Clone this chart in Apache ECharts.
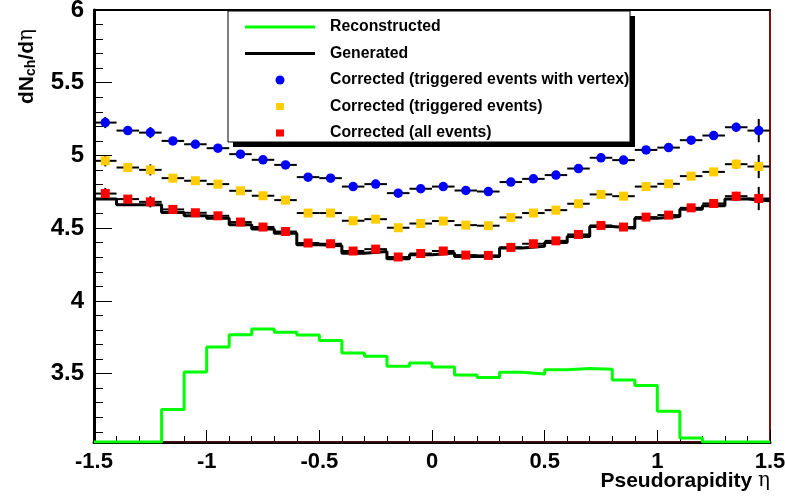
<!DOCTYPE html>
<html>
<head>
<meta charset="utf-8">
<script src="https://cdn.jsdelivr.net/npm/echarts@6/dist/echarts.min.js"></script>
<style>html,body{margin:0;padding:0;background:#fff;}#c{width:785px;height:496px;}</style>
</head>
<body>
<div id="c"></div>
<script>
// ---- data ----
const eta = [-1.45,-1.35,-1.25,-1.15,-1.05,-0.95,-0.85,-0.75,-0.65,-0.55,-0.45,-0.35,-0.25,-0.15,-0.05,
             0.05,0.15,0.25,0.35,0.45,0.55,0.65,0.75,0.85,0.95,1.05,1.15,1.25,1.35,1.45];
const reconstructed = [0,0,0,3.253,3.512,3.683,3.768,3.807,3.784,3.766,3.727,3.642,3.619,3.550,3.573,
                       3.546,3.491,3.473,3.509,3.498,3.527,3.536,3.530,3.457,3.418,3.241,3.058,0,0,0];
const generated = [4.700,4.661,4.661,4.608,4.585,4.569,4.523,4.494,4.466,4.386,4.380,4.328,4.340,4.289,4.317,
                   4.329,4.306,4.306,4.363,4.376,4.402,4.443,4.512,4.500,4.569,4.580,4.631,4.654,4.700,4.688];
const corrVertex = [5.226,5.171,5.157,5.100,5.077,5.050,5.009,4.970,4.935,4.851,4.844,4.786,4.803,4.741,4.771,
                    4.786,4.759,4.752,4.817,4.839,4.865,4.910,4.984,4.968,5.038,5.054,5.105,5.137,5.194,5.171];
const corrTriggered = [4.963,4.917,4.901,4.844,4.826,4.803,4.757,4.723,4.693,4.604,4.604,4.551,4.562,4.503,4.532,
                       4.549,4.521,4.517,4.574,4.604,4.624,4.668,4.732,4.720,4.786,4.805,4.858,4.887,4.940,4.924];
const corrAll = [4.738,4.700,4.681,4.629,4.606,4.585,4.542,4.508,4.477,4.398,4.393,4.343,4.356,4.302,4.326,
                 4.343,4.315,4.313,4.368,4.393,4.413,4.457,4.519,4.508,4.576,4.590,4.640,4.670,4.720,4.704];
const corrErr = [0.038,0.025,0.038,0.025,0.025,0.025,0.025,0.025,0.025,0.025,0.025,0.025,0.025,0.025,0.025,
                 0.025,0.025,0.025,0.025,0.025,0.025,0.025,0.025,0.025,0.025,0.025,0.025,0.025,0.03,0.08];
const zeroHist = eta.map(() => 0);
const xTicks = [-1.5,-1,-0.5,0,0.5,1,1.5];
const yTicks = [3.5,4,4.5,5,5.5,6];
const yMin = 3.03, yMax = 6;
const binHalf = 0.05;

// ---- helpers ----
const yMinor = [];
for (let k = 31; k <= 60; k++) { const v = k / 10; if (Math.abs(v * 2 - Math.round(v * 2)) > 1e-6) yMinor.push(v); }
function histPath(vals) {
  const pts = [];
  vals.forEach((v, i) => { const y = Math.max(v, yMin); pts.push([eta[i] - binHalf, y], [eta[i] + binHalf, y]); });
  return pts;
}
const FONT = "'Liberation Sans', Arial, Helvetica, sans-serif";
function errSeries(vals) {
  return {
    type: 'custom', xAxisIndex: 0, yAxisIndex: 0, z: 3, silent: true,
    data: eta.map((x, i) => [x, vals[i], corrErr[i]]),
    encode: { x: 0, y: 1 },
    renderItem: function (params, api) {
      const x = api.value(0), y = api.value(1), e = api.value(2);
      const a = api.coord([x - binHalf, y]), b = api.coord([x + binHalf, y]);
      const t = api.coord([x, y + e]), u = api.coord([x, y - e]);
      return { type: 'group', children: [
        { type: 'line', shape: { x1: a[0], y1: a[1], x2: b[0], y2: b[1] }, style: { stroke: '#000', lineWidth: 2 } },
        { type: 'line', shape: { x1: t[0], y1: t[1], x2: u[0], y2: u[1] }, style: { stroke: '#000', lineWidth: 2 } }
      ]};
    }
  };
}
const LINE_ICON = 'path://M0,0 M0,3 L70,3 L70,6 L0,6 Z M70,9';
const SQUARE_ICON = 'path://M0,0 M31,1 L39,1 L39,8 L31,8 Z M70,9';

const chart = echarts.init(document.getElementById('c'), null, { renderer: 'canvas' });
const option = {
  animation: false,
  backgroundColor: '#fff',
  grid: { left: 94, right: 15, top: 10, bottom: 54, containLabel: false, outerBoundsMode: 'none' },
  xAxis: [{
    type: 'value', min: -1.5, max: 1.5, interval: 0.5, position: 'bottom',
    axisLine: { show: true, onZero: false, lineStyle: { color: '#000', width: 3 } },
    axisTick: { show: true, inside: true, length: 12, lineStyle: { color: '#000', width: 1 } },
    minorTick: { show: true, splitNumber: 5, length: 6, lineStyle: { color: '#000', width: 1 } },
    axisLabel: { show: true, customValues: xTicks, showMinLabel: true, showMaxLabel: true, margin: 9, hideOverlap: false,
                 color: '#000', fontSize: 22, fontWeight: 'bold', fontFamily: FONT },
    splitLine: { show: false }
  }, {
    type: 'value', min: -1.5, max: 1.5, position: 'top',
    axisLine: { show: true, onZero: false, lineStyle: { color: '#000', width: 2 } },
    axisTick: { show: false }, axisLabel: { show: false }, splitLine: { show: false }
  }],
  yAxis: [{
    type: 'value', min: yMin, max: yMax, position: 'left',
    axisLine: { show: true, onZero: false, lineStyle: { color: '#000', width: 3 } },
    axisTick: { show: true, inside: true, length: 18, customValues: yTicks, lineStyle: { color: '#000', width: 1 } },
    axisLabel: { show: true, customValues: yTicks, margin: 10, padding: [4, 0, 0, 0], color: '#000', fontSize: 24, fontWeight: 'bold', fontFamily: FONT },
    splitLine: { show: false }
  }, {
    type: 'value', min: yMin, max: yMax, position: 'left',
    axisLine: { show: false, onZero: false },
    axisTick: { show: true, inside: true, length: 9, customValues: yMinor, lineStyle: { color: '#000', width: 1 } },
    axisLabel: { show: false }, splitLine: { show: false }
  }, {
    type: 'value', min: yMin, max: yMax, position: 'right',
    axisLine: { show: true, onZero: false, lineStyle: { color: '#7a1010', width: 2 } },
    axisTick: { show: false }, axisLabel: { show: false }, splitLine: { show: false }
  }],
  legend: {
    orient: 'vertical', left: 245, top: 19, z: 20, padding: 0,
    itemWidth: 70, itemHeight: 9, itemGap: 10.5,
    textStyle: { fontSize: 15.8, fontWeight: 'bold', fontFamily: FONT, color: '#000', lineHeight: 16, padding: [0, 0, 0, 10] },
    data: [
      { name: 'Reconstructed', icon: LINE_ICON, itemStyle: { color: '#00ff00' } },
      { name: 'Generated', icon: LINE_ICON, itemStyle: { color: '#000' } },
      { name: 'Corrected (triggered events with vertex)', icon: 'circle' },
      { name: 'Corrected (triggered events)', icon: SQUARE_ICON },
      { name: 'Corrected (all events)', icon: SQUARE_ICON }
    ]
  },
  graphic: [
    { type: 'rect', z: 10, shape: { x: 233, y: 16, width: 402, height: 131 }, style: { fill: '#000' } },
    { type: 'rect', z: 11, shape: { x: 228, y: 11, width: 402, height: 131 }, style: { fill: '#fff', stroke: '#000', lineWidth: 1 } },
    { type: 'text', z: 12, x: 27, y: 104, rotation: Math.PI / 2,
      style: { text: '{b|dN}{s|ch}{b|/d}{g|η}', align: 'left', verticalAlign: 'middle',
        rich: { b: { fontSize: 21, fontWeight: 'bold', fontFamily: FONT, fill: '#000' },
                s: { fontSize: 14, fontWeight: 'bold', fontFamily: FONT, fill: '#000', verticalAlign: 'bottom', padding: [8, 0, 0, 0] },
                g: { fontSize: 20, fontFamily: "'DejaVu Serif', serif", fill: '#000' } } } },
    { type: 'text', z: 12, x: 770, y: 481,
      style: { text: '{b|Pseudorapidity }{g|η}', align: 'right', verticalAlign: 'middle',
        rich: { b: { fontSize: 21, fontWeight: 'bold', fontFamily: FONT, fill: '#000' },
                g: { fontSize: 20, fontFamily: "'DejaVu Serif', serif", fill: '#000' } } } }
  ],
  series: [
    { name: 'Generated', type: 'line', xAxisIndex: 0, yAxisIndex: 0, data: histPath(generated), symbol: 'none', showSymbol: false, z: 2,
      lineStyle: { color: '#000', width: 3 }, itemStyle: { color: '#000' } },
    { name: 'zero', type: 'line', xAxisIndex: 0, yAxisIndex: 0, data: histPath(zeroHist), symbol: 'none', showSymbol: false, z: 2,
      lineStyle: { color: '#ff4040', width: 1, opacity: 0.6 } },
    { name: 'Reconstructed', type: 'line', xAxisIndex: 0, yAxisIndex: 0, data: histPath(reconstructed), symbol: 'none', showSymbol: false, z: 3,
      lineStyle: { color: '#00ff00', width: 3 }, itemStyle: { color: '#00ff00' } },
    errSeries(corrVertex), errSeries(corrTriggered), errSeries(corrAll),
    { name: 'Corrected (triggered events with vertex)', type: 'scatter', z: 5, symbol: 'circle', symbolSize: 9.5,
      data: eta.map((x, i) => [x, corrVertex[i]]), itemStyle: { color: '#0000ff', opacity: 1 } },
    { name: 'Corrected (triggered events)', type: 'scatter', z: 5, symbol: 'rect', symbolSize: 9,
      data: eta.map((x, i) => [x, corrTriggered[i]]), itemStyle: { color: '#ffcc00', opacity: 1 } },
    { name: 'Corrected (all events)', type: 'scatter', z: 5, symbol: 'rect', symbolSize: 9,
      data: eta.map((x, i) => [x, corrAll[i]]), itemStyle: { color: '#ff0000', opacity: 1 } }
  ]
};
chart.setOption(option);
</script>
</body>
</html>
